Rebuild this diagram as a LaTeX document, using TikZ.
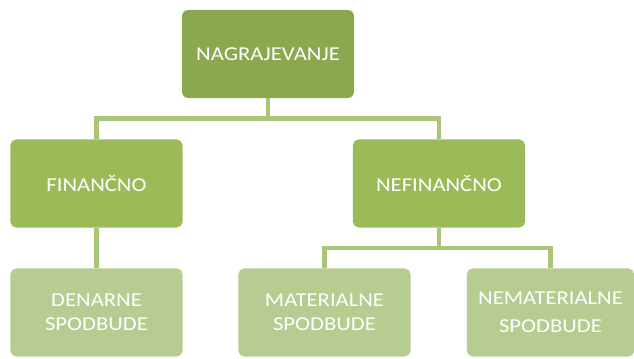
\documentclass[tikz,border=0pt]{standalone}
\usepackage{fontspec}
\setmainfont{Carlito}[FakeStretch=1.15]
\usepackage{xcolor}
\usepackage{tikz}
\usetikzlibrary{calc, positioning}
\definecolor{topgreen}{HTML}{8BA84F}
\definecolor{midgreen}{HTML}{9BBB59}
\definecolor{lowgreen}{HTML}{B6CC90}
\definecolor{linegreen}{HTML}{A8C578}
\tikzset{
    box/.style={rectangle, rounded corners=4pt, draw=none, align=center, text=white, minimum width=4.3cm, minimum height=2.2cm, font=\fontsize{14}{17}\selectfont},
    topbox/.style={box, fill=topgreen},
    midbox/.style={box, fill=midgreen},
    lowbox/.style={box, fill=lowgreen},
    conn/.style={draw=linegreen, line width=3.2pt}
}
\begin{document}
\begin{tikzpicture}[x=0.025cm, y=-0.025cm]
    \useasboundingbox (0,0) rectangle (634,358);

    % --- LEVEL 0 ---
    \node[topbox] (nagr) at (268,54) {NAGRAJEVANJE};

    % --- LEVEL 1 ---
    \node[midbox] (fin) at (96.5,183.5) {FINANČNO};
    \node[midbox] (nef) at (439,183.5) {NEFINANČNO};

    % --- LEVEL 2 ---
    \node[lowbox] (den) at (96.5,312.5) {DENARNE\\SPODBUDE};
    \node[lowbox] (mat) at (324.5,312.5) {MATERIALNE\\SPODBUDE};
    \node[lowbox, minimum width=4.18cm] (nem) at (550.5,312.5) {NEMATERIALNE\\[3pt]SPODBUDE};

    % Connections
    \draw[conn] (nagr.south) -- ++(0,20) -| (fin.north);
    \draw[conn] (nagr.south) -- ++(0,20) -| (nef.north);
    \draw[conn] (fin.south) -- (den.north);
    \draw[conn] (nef.south) -- ++(0,20) -| (mat.north);
    \draw[conn] (nef.south) -- ++(0,20) -| (nem.north);
\end{tikzpicture}
\end{document}
